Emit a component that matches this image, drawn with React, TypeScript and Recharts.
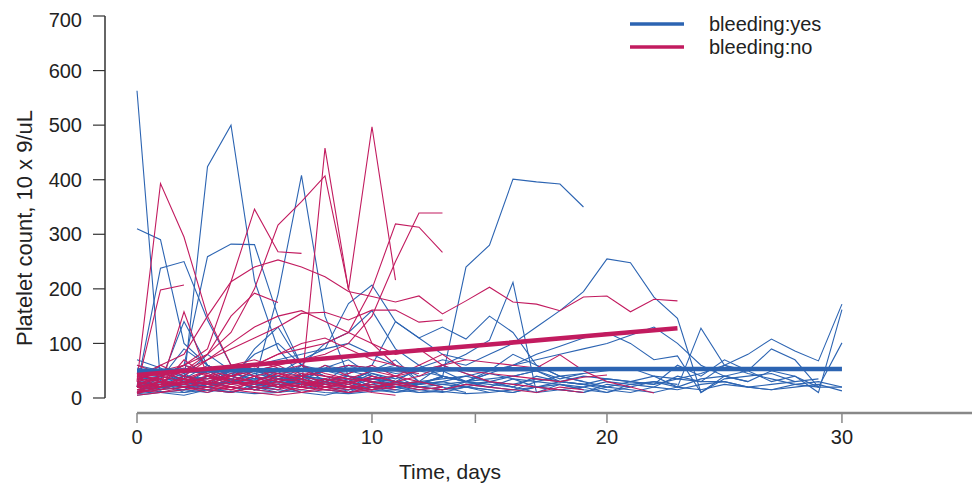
import React from 'react';
import { LineChart, Line, XAxis, YAxis, ReferenceLine, Legend } from 'recharts';

const BLUE = '#2c64b2';
const RED = '#c21b5f';

// platelet counts per patient, one value per day starting at day 0
const b01 = [563, 30, 45, 20, 35, 15, 25, 10];
const b02 = [310, 290, 100, 60, 40, 30, 20, 45, 25, 15, 30, 20];
const b03 = [20, 238, 250, 143, 60, 50, 40, 30, 55, 70, 40, 30, 25];
const b04 = [15, 25, 30, 424, 500, 215, 90, 40, 30, 20, 35, 25];
const b05 = [10, 40, 60, 259, 282, 281, 150, 60, 40, 30, 50, 60, 30, 20];
const b06 = [30, 20, 15, 40, 25, 30, 190, 408, 150, 40, 30, 25];
const b07 = [40, 30, 25, 50, 30, 20, 35, 25, 30, 40, 20, 30, 25, 38, 240, 280, 401, 396, 392, 350];
const b08 = [20, 30, 40, 25, 30, 50, 35, 40, 30, 60, 45, 30, 55, 70, 60, 80, 100, 130, 160, 195, 255, 248, 185, 146, 10, 40, 30];
const b09 = [15, 20, 30, 25, 40, 30, 20, 35, 50, 40, 30, 25, 30, 60, 80, 106, 212, 10, 25, 15];
const b10 = [30, 25, 40, 35, 50, 60, 70, 80, 90, 173, 207, 140, 110, 130, 108, 150, 120, 60, 40, 30, 20];
const b11 = [25, 20, 30, 40, 35, 30, 25, 20, 30, 40, 35, 30, 25, 40, 30, 20, 35, 30, 40, 45, 50, 55, 40, 35, 45, 60, 80, 108, 86, 68, 172];
const b12 = [40, 30, 20, 25, 30, 35, 40, 30, 25, 30, 20, 25, 30, 35, 40, 50, 60, 70, 80, 90, 100, 115, 130, 100, 60, 40, 50, 30, 40, 10, 162];
const b13 = [10, 15, 20, 30, 20, 15, 25, 30, 20, 15, 25, 20, 30, 25, 20, 30, 25, 35, 30, 40, 35, 30, 40, 20, 128, 60, 50, 90, 70, 20, 101];
const b14 = [60, 50, 40, 30, 45, 35, 30, 25, 20, 30, 35, 30, 20, 15, 25, 20, 15, 30, 25, 20, 30, 25, 20, 15, 25, 30, 20, 15, 25, 30, 20];
const b15 = [5, 10, 15, 10, 20, 15, 10, 20, 15, 10, 15, 20, 10, 15, 20, 10, 15, 20, 15, 10, 20, 15, 10, 20, 15, 25, 20, 15, 20, 25, 13];
const b16 = [70, 55, 30, 40, 60, 50, 45, 70, 90, 100, 80, 60, 40, 50, 30, 25, 20];
const b17 = [20, 35, 90, 60, 40, 80, 100, 60, 50, 45, 60, 140, 110, 80, 70];
const b18 = [50, 40, 60, 50, 30, 90, 130, 60, 40, 30, 50, 70, 30, 20];
const b19 = [10, 20, 15, 25, 30, 20, 40, 60, 100, 120, 160, 90, 60, 40];
const b20 = [30, 25, 20, 15, 30, 45, 35, 25, 30, 20, 40, 30, 25, 30, 40, 30, 20, 40, 30, 25, 35, 30, 25, 60, 40, 70, 50];
const b21 = [45, 30, 10, 20, 30, 25, 40, 30, 20, 10, 30, 20, 25, 40, 30, 35, 40, 50, 30, 25, 20, 30, 25, 35, 30, 30, 20, 25, 30, 35];
const b22 = [15, 20, 25, 20, 30, 25, 20, 30, 25, 35, 30, 20, 15, 10, 20, 15, 10, 20, 15, 10, 25, 20];
const b23 = [25, 10, 5, 15, 10, 20, 15, 10, 5, 15, 20, 10, 15, 20, 10];
const b24 = [35, 40, 30, 25, 50, 40, 30, 35, 60, 50, 40, 30, 20, 25, 30, 50, 80, 60, 40, 30];
const b25 = [8, 12, 10, 15, 12, 8, 10, 15, 10, 8, 12, 15, 10, 12, 8, 10];
const b26 = [20, 30, 140, 60, 30, 20, 10, 25, 35, 20, 15, 30, 25];
const b27 = [30, 20, 25, 30, 20, 15, 25, 60, 30, 20, 25, 40, 20, 15, 25, 30, 20, 10, 15, 20, 10, 25, 30, 20, 35, 40, 30, 50, 40, 20, 20];
const b28 = [40, 50, 30, 20, 35, 25, 30, 40, 50, 60, 55, 45, 50, 40, 30, 45, 60, 80, 95, 110, 120, 100, 70, 77, 10, 35, 40, 45, 30];
const b29 = [12, 18, 25, 15, 10, 20, 30, 25, 15, 10, 20, 15, 25, 30, 20, 15, 10, 20, 25, 15, 10, 20, 30, 25];
const b30 = [55, 45, 35, 60, 40, 30, 50, 40, 35, 25, 45, 35, 50, 60, 45, 30, 40, 50, 35, 45];
const b31 = [25, 15, 30, 20, 10, 25, 15, 40, 20, 30, 15, 10, 20, 15, 30, 45, 35, 20, 30, 25, 15, 10, 20, 40, 30, 60, 45, 35, 25, 20];
const b32 = [35, 20, 40, 80, 50, 30, 20, 40, 35, 20, 15, 25];

const r01 = [30, 393, 295, 150, 60, 40, 20, 30, 15];
const r02 = [20, 198, 207];
const r03 = [25, 40, 60, 90, 213, 346, 268, 265];
const r04 = [15, 30, 50, 80, 120, 200, 317, 360, 407, 200, 100, 60];
const r05 = [20, 15, 30, 25, 40, 60, 30, 20, 458, 198, 497, 216];
const r06 = [40, 60, 80, 150, 213, 240, 253, 240, 222, 195, 186, 176, 187, 154, 178, 203, 176, 172, 160, 185, 187, 158, 181, 178];
const r07 = [30, 40, 50, 70, 90, 110, 130, 155, 157, 143, 161, 161, 139, 143];
const r08 = [20, 30, 25, 40, 50, 60, 80, 90, 100, 120, 200, 319, 313, 267];
const r09 = [15, 20, 30, 25, 40, 50, 60, 70, 80, 100, 150, 250, 339, 339];
const r10 = [30, 20, 158, 40, 25, 30];
const r11 = [20, 30, 25, 40, 35, 30, 45, 50, 40, 30, 35, 40, 50, 60, 70, 65, 60, 55, 79, 50, 30, 20, 9];
const r12 = [10, 15, 20, 30, 25, 40, 50, 60, 45, 35, 50, 40, 60, 80, 50, 45, 40, 35, 30, 38, 42];
const r13 = [45, 50, 60, 80, 150, 192, 175];
const r14 = [10, 20, 40, 70, 100, 130, 150, 160, 140, 120, 100, 80, 90, 60];
const r15 = [35, 30, 25, 20, 15, 30, 20, 25, 35, 30, 20, 25, 15, 20];
const r16 = [50, 40, 30, 25, 20, 15, 10, 20, 15, 10, 20, 25, 30, 20];
const r17 = [25, 35, 20, 15, 10, 20, 30, 40, 60, 40, 30, 20];
const r18 = [40, 20, 30, 50, 30, 20, 15, 25, 20, 10, 15, 20];
const r19 = [15, 10, 20, 30, 45, 60, 80, 100, 110, 90, 70, 60, 50];
const r20 = [5, 10, 15, 20, 15, 10, 5, 10, 15, 20, 10, 5];
const r21 = [30, 60, 40, 30, 20, 15, 25, 10, 20, 30];
const r22 = [20, 25, 30, 35, 40, 50, 45, 40, 50, 60, 55, 50, 45];
const r23 = [35, 45, 55, 40, 30, 25, 35, 30, 25, 20, 15];
const r24 = [10, 30, 20, 10, 25, 40, 30, 20, 35, 25, 15, 30, 40, 60, 45, 30, 25, 20, 15, 10];
const r25 = [25, 20, 70, 40, 30, 50, 60, 40, 30, 20, 25, 15];
const r26 = [45, 30, 20, 15, 20, 30, 25, 20, 30, 45, 60, 40, 30];
const r27 = [12, 25, 35, 50, 40, 30, 20, 15, 25, 30, 20];
const r28 = [60, 45, 35, 30, 40, 55, 45, 35, 25, 20];
const r29 = [22, 40, 60, 45, 30, 25, 40, 35, 20, 15, 30, 25, 20, 15, 25, 20, 15, 10, 20, 15];
const r30 = [8, 20, 35, 25, 15, 30, 45, 30, 20, 25, 40, 30, 20];
const r31 = [40, 35, 50, 45, 60, 70, 55, 45, 40, 35, 30];

// group trend lines
const trendYesDays = [0, 10, 20, 30];
const trendYes = [50, 52, 53, 53];
const trendNoDays = [0, 5, 10, 15, 20, 23];
const trendNo = [42, 61, 80, 98, 117, 128];

const xTicks = [0, 10, 14.4, 20, 30];
const yTicks = [0, 100, 200, 300, 400, 500, 600, 700];

const legendItems = [
  { label: 'bleeding:yes', color: BLUE },
  { label: 'bleeding:no', color: RED },
];

const blueSeries = [b01, b02, b03, b04, b05, b06, b07, b08, b09, b10, b11, b12, b13, b14, b15, b16,
  b17, b18, b19, b20, b21, b22, b23, b24, b25, b26, b27, b28, b29, b30, b31, b32];
const redSeries = [r01, r02, r03, r04, r05, r06, r07, r08, r09, r10, r11, r12, r13, r14, r15, r16,
  r17, r18, r19, r20, r21, r22, r23, r24, r25, r26, r27, r28, r29, r30, r31];

const X_MIN = -1.362;
const X_MAX = 35.79;
const Y_MIN = -27.5;

const toPoints = (vals: number[]) => vals.map((v, i) => ({ day: i, v }));
const zipPoints = (days: number[], vals: number[]) => days.map((d, i) => ({ day: d, v: vals[i] }));

const XTick = (props: any) => {
  const { x, y, payload } = props;
  if (payload.value % 10 !== 0) return null;
  return (
    <text x={x} y={y} dy="0.71em" textAnchor="middle" fontSize={20} fill="#222">
      {payload.value}
    </text>
  );
};

const renderLegend = () => (
  <svg width={230} height={50}>
    {legendItems.map((item, i) => (
      <g key={item.label}>
        <line x1={2} x2={56} y1={11 + i * 23} y2={11 + i * 23} stroke={item.color} strokeWidth={3.5} />
        <text x={81} y={18 + i * 23} fontSize={20} fill="#222">{item.label}</text>
      </g>
    ))}
  </svg>
);

export default function App() {
  return (
    <div style={{ fontFamily: '"Liberation Sans", Arial, sans-serif', position: 'relative' }}>
      <LineChart width={972} height={479} margin={{ top: 8, right: 2, bottom: 0, left: 0 }}>
        <XAxis
          type="number"
          dataKey="day"
          domain={[X_MIN, X_MAX]}
          ticks={xTicks}
          allowDataOverflow
          axisLine={false}
          tickLine={{ stroke: '#888', strokeWidth: 1.5 }}
          tickSize={10}
          tickMargin={7}
          tick={<XTick />}
          height={74}
          label={{
            content: () => (
              <text x={442} y={471} textAnchor="middle" fontSize={21} fill="#222">Time, days</text>
            ),
          }}
        />
        <YAxis
          type="number"
          domain={[Y_MIN, 700]}
          ticks={yTicks}
          allowDataOverflow
          axisLine={false}
          tickLine={{ stroke: '#333', strokeWidth: 1.2 }}
          tickSize={12}
          tickMargin={11}
          width={97}
          tick={{ fontSize: 20, fill: '#222' }}
          label={{
            content: () => (
              <text x={24} y={220} transform="rotate(-90 24 220)" textAnchor="middle" fontSize={22} fill="#222">
                Platelet count, 10 x 9/uL
              </text>
            ),
          }}
        />
        <ReferenceLine
          segment={[{ x: X_MIN, y: 0 }, { x: X_MIN, y: 700 }]}
          stroke="#333"
          strokeWidth={1.5}
          ifOverflow="visible"
        />
        <ReferenceLine
          segment={[{ x: 0, y: Y_MIN }, { x: X_MAX, y: Y_MIN }]}
          stroke="#888"
          strokeWidth={2.5}
          ifOverflow="visible"
        />
        {blueSeries.map((s, i) => (
          <Line key={`b${i}`} data={toPoints(s)} dataKey="v" stroke={BLUE} strokeWidth={1.1}
            dot={false} activeDot={false} isAnimationActive={false} />
        ))}
        {redSeries.map((s, i) => (
          <Line key={`r${i}`} data={toPoints(s)} dataKey="v" stroke={RED} strokeWidth={1.1}
            dot={false} activeDot={false} isAnimationActive={false} />
        ))}
        <Line data={zipPoints(trendYesDays, trendYes)} dataKey="v" stroke={BLUE} strokeWidth={4.5}
          dot={false} activeDot={false} isAnimationActive={false} />
        <Line data={zipPoints(trendNoDays, trendNo)} dataKey="v" stroke={RED} strokeWidth={4.5}
          dot={false} activeDot={false} isAnimationActive={false} />
        <Legend
          layout="vertical"
          align="center"
          verticalAlign="middle"
          content={renderLegend}
          wrapperStyle={{ position: 'absolute', left: 620, top: 5, width: 230, height: 50 }}
        />
      </LineChart>
    </div>
  );
}
